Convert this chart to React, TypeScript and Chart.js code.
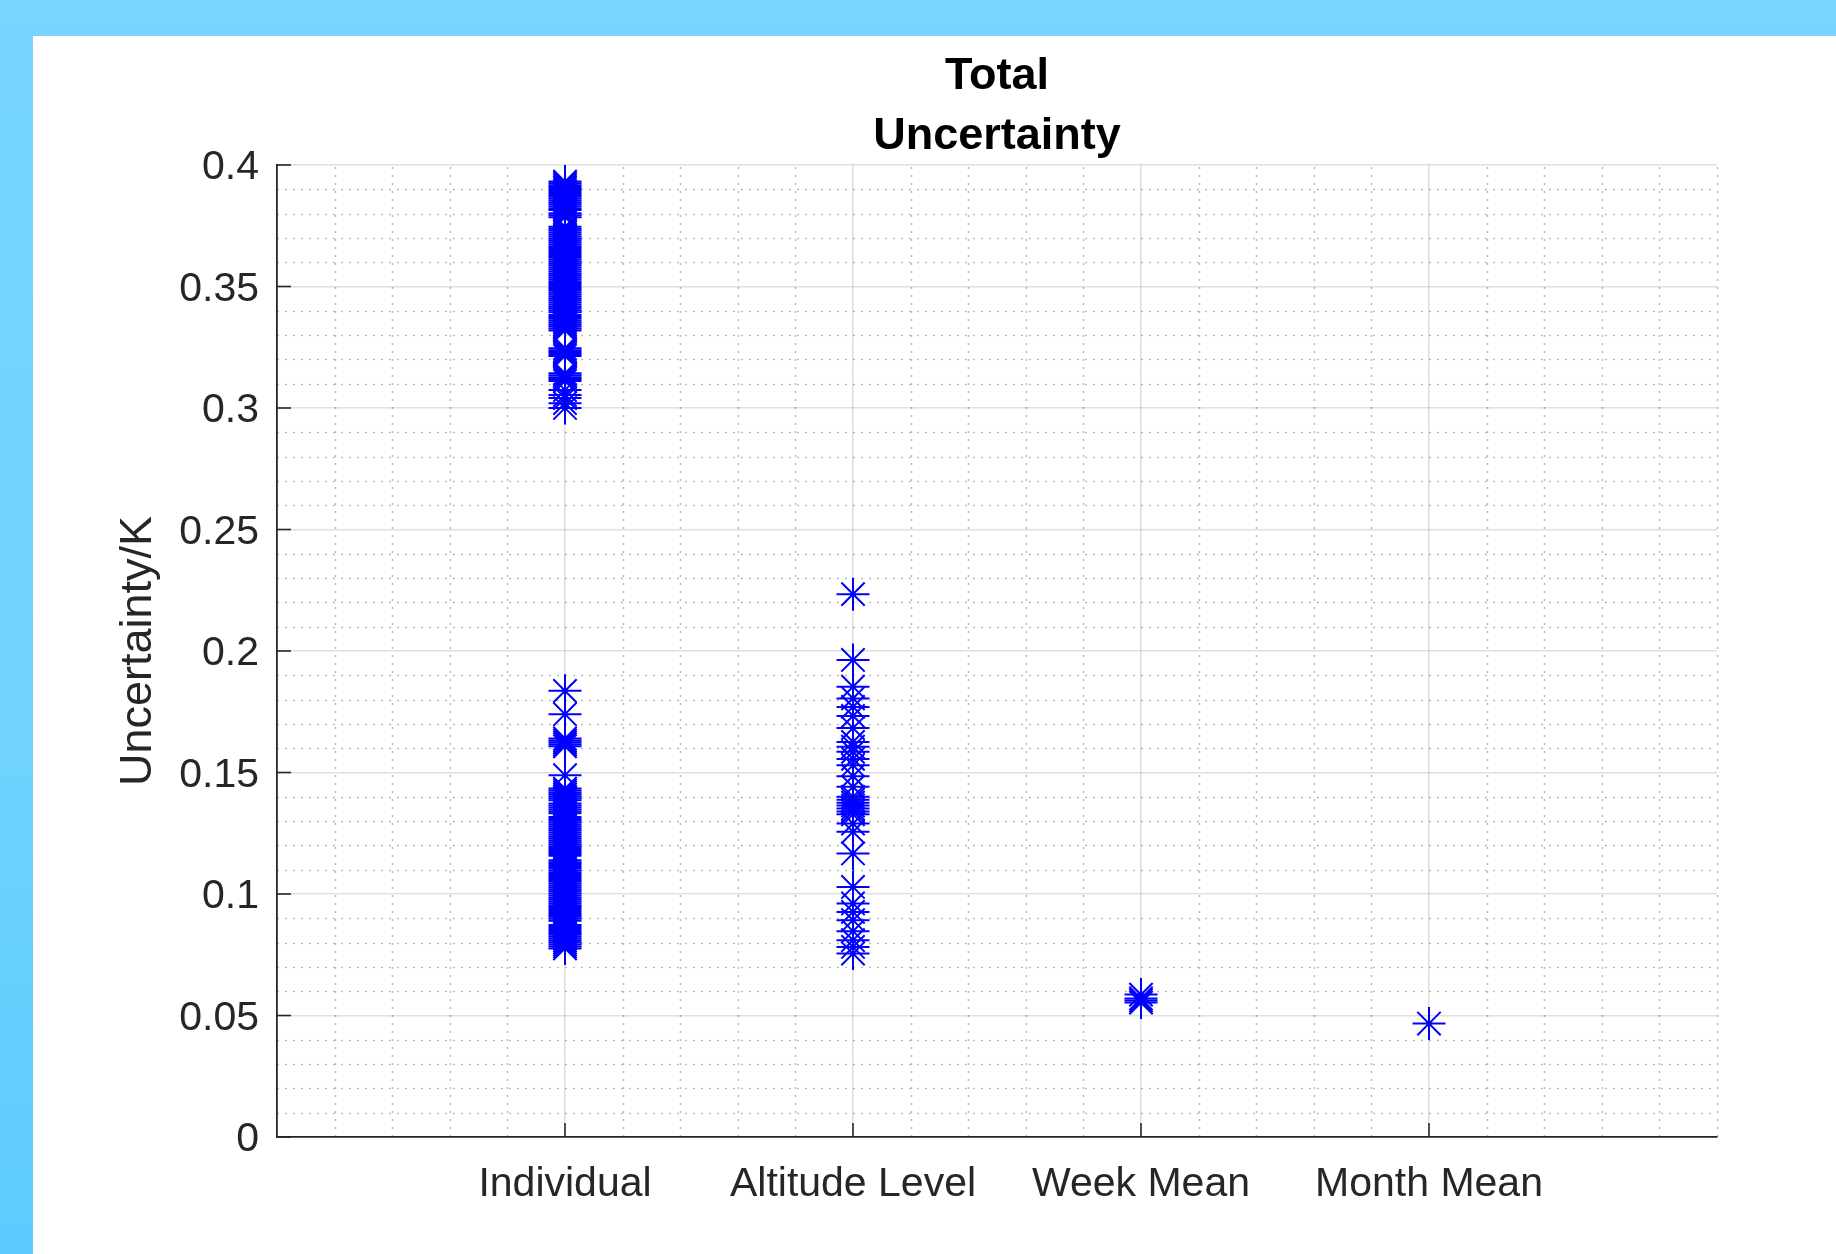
import React, { useEffect, useRef } from 'react';
import { Chart, registerables } from 'chart.js';

Chart.register(...registerables);

// ---------------- data ----------------
const categories = ['Individual', 'Altitude Level', 'Week Mean', 'Month Mean'];

const individualValues = [
  // upper group
  0.3932, 0.3925, 0.3917, 0.3909, 0.3901, 0.3893, 0.3885, 0.3877, 0.3869, 0.3861,
  0.3853, 0.3845, 0.3837, 0.3829, 0.3821, 0.3815,
  0.3801, 0.3793, 0.3785,
  0.3746, 0.3738, 0.373, 0.3722, 0.3714, 0.3706, 0.3698, 0.369, 0.3682, 0.3674,
  0.3666, 0.3658, 0.365, 0.3642, 0.3634, 0.3626, 0.3618, 0.361, 0.3602, 0.3594,
  0.3586, 0.3578, 0.357, 0.3562, 0.3554, 0.3546, 0.3538, 0.353, 0.3522, 0.3514,
  0.3506, 0.3498, 0.349, 0.3482, 0.3474, 0.3466, 0.3458, 0.345, 0.3442, 0.3434,
  0.3426, 0.3418, 0.341, 0.3402, 0.3394,
  0.3383, 0.3375, 0.3367, 0.3359, 0.3351, 0.3343, 0.3335, 0.3327, 0.3319,
  0.3246, 0.3238, 0.323, 0.3222, 0.3214,
  0.3143, 0.3135, 0.3127, 0.3119, 0.3111,
  0.3074, 0.3053, 0.3041, 0.302, 0.3,
  // lower group
  0.1836, 0.174, 0.164, 0.1632, 0.1624, 0.1616, 0.1608, 0.1489,
  0.1434, 0.1426, 0.1418, 0.141, 0.1402, 0.1394, 0.1386,
  0.1372, 0.1364, 0.1356, 0.1348, 0.134, 0.1332,
  0.1317, 0.1309, 0.1301, 0.1293, 0.1285, 0.1277, 0.1269, 0.1261, 0.1253, 0.1245,
  0.1237, 0.1229, 0.1221, 0.1213, 0.1205, 0.1197, 0.1189, 0.1181, 0.1173, 0.1165, 0.1157,
  0.1139, 0.1131, 0.1123, 0.1115, 0.1107,
  0.1098, 0.109, 0.1082, 0.1074, 0.1066, 0.1058, 0.105, 0.1042, 0.1034, 0.1026,
  0.1018, 0.101, 0.1002, 0.0994, 0.0986, 0.0978, 0.097, 0.0962, 0.0954, 0.0946,
  0.0938, 0.093, 0.0922, 0.0914, 0.0906, 0.0898, 0.089,
  0.0872, 0.0864, 0.0856, 0.0848, 0.084, 0.0832, 0.0824, 0.0816, 0.0808, 0.08,
  0.0792, 0.0784, 0.0776,
];

const altitudeValues = [
  0.2234, 0.1963, 0.1853, 0.1805, 0.177, 0.1733, 0.1683, 0.1626, 0.1606, 0.1585,
  0.1556, 0.153, 0.1485, 0.1441, 0.14, 0.1388, 0.1376, 0.1364, 0.1352, 0.134,
  0.1328, 0.129, 0.1256, 0.1167, 0.1029, 0.0961, 0.0926, 0.0892, 0.0847, 0.081,
  0.0782, 0.0755,
];

const weekMeanValues = [0.0586, 0.057, 0.0562, 0.0553];

const monthMeanValues = [0.0467];

const yTickValues = [0, 0.05, 0.1, 0.15, 0.2, 0.25, 0.3, 0.35, 0.4];
const yTickLabels = ['0', '0.05', '0.1', '0.15', '0.2', '0.25', '0.3', '0.35', '0.4'];

const seriesValues = [individualValues, altitudeValues, weekMeanValues, monthMeanValues];

// ---------------- style ----------------
const FONT = "'Liberation Sans', Arial, Helvetica, sans-serif";
const AXIS_COLOR = '#262626';
const MARKER_COLOR = 'rgb(0,0,255)';

const matlabGrid = {
  id: 'matlabGrid',
  beforeDatasetsDraw(chart: any) {
    const { ctx, chartArea: a, scales } = chart;
    const x = scales.x;
    const y = scales.y;
    ctx.save();
    // minor dotted grid
    ctx.strokeStyle = 'rgba(38,38,38,0.32)';
    ctx.lineWidth = 1.5;
    ctx.setLineDash([2, 6]);
    for (let i = 1; i <= 25; i++) {
      if (i % 5 === 0 && i !== 25) continue;
      const px = Math.round(x.getPixelForValue(i * 0.2)) + 0.5;
      ctx.beginPath();
      ctx.moveTo(px, a.bottom);
      ctx.lineTo(px, a.top);
      ctx.stroke();
    }
    for (let j = 1; j < 40; j++) {
      if (j % 5 === 0) continue;
      const py = Math.round(y.getPixelForValue(j * 0.01)) + 0.5;
      ctx.beginPath();
      ctx.moveTo(a.left, py);
      ctx.lineTo(a.right, py);
      ctx.stroke();
    }
    ctx.setLineDash([]);
    // inward tick marks
    ctx.strokeStyle = AXIS_COLOR;
    ctx.lineWidth = 1.6;
    for (const t of y.ticks) {
      const py = y.getPixelForValue(t.value);
      ctx.beginPath();
      ctx.moveTo(a.left, py);
      ctx.lineTo(a.left + 14, py);
      ctx.stroke();
    }
    for (const t of x.ticks) {
      const px = x.getPixelForValue(t.value);
      ctx.beginPath();
      ctx.moveTo(px, a.bottom);
      ctx.lineTo(px, a.bottom - 14);
      ctx.stroke();
    }
    ctx.restore();
  },
};

export default function App() {
  const canvasRef = useRef<HTMLCanvasElement | null>(null);

  useEffect(() => {
    const canvas = canvasRef.current;
    if (!canvas) return;
    const datasets = seriesValues.map((vals, i) => ({
      label: categories[i],
      data: vals.map((v) => ({ x: i + 1, y: v })),
      pointStyle: 'star' as const,
      pointRadius: 16.5,
      pointBorderWidth: 2,
      borderColor: MARKER_COLOR,
      pointBorderColor: MARKER_COLOR,
      backgroundColor: 'rgba(0,0,0,0)',
      pointBackgroundColor: 'rgba(0,0,0,0)',
      showLine: false,
    }));

    const chart = new Chart(canvas, {
      type: 'scatter',
      data: { datasets },
      options: {
        animation: false,
        responsive: false,
        devicePixelRatio: 1,
        events: [],
        layout: { padding: { left: 0, right: 119, top: 0, bottom: 0 } },
        plugins: {
          legend: { display: false },
          tooltip: { enabled: false },
          title: {
            display: true,
            fullSize: false,
            text: ['Total', 'Uncertainty'],
            color: '#000000',
            font: { family: FONT, size: 45, weight: 'bold', lineHeight: 60 / 45 },
            padding: { top: 10.5, bottom: -1.5 },
          },
        },
        scales: {
          x: {
            type: 'linear',
            min: 0,
            max: 5,
            afterBuildTicks: (scale: any) => {
              scale.ticks = categories.map((_, i) => ({ value: i + 1 }));
            },
            afterFit: (scale: any) => {
              scale.height = 117;
            },
            ticks: {
              autoSkip: false,
              maxRotation: 0,
              padding: 23.5,
              color: AXIS_COLOR,
              font: { family: FONT, size: 41 },
              callback: (value: any) => categories[Math.round(Number(value)) - 1] ?? '',
            },
            grid: {
              color: 'rgba(38,38,38,0.15)',
              lineWidth: 1.5,
              drawTicks: false,
              tickLength: 0,
            },
            border: { display: true, color: AXIS_COLOR, width: 1.8 },
          },
          y: {
            type: 'linear',
            min: 0,
            max: 0.4,
            afterBuildTicks: (scale: any) => {
              scale.ticks = yTickValues.map((v) => ({ value: v }));
            },
            afterFit: (scale: any) => {
              scale.width = 244;
            },
            ticks: {
              autoSkip: false,
              padding: 18,
              labelOffset: 3,
              color: AXIS_COLOR,
              font: { family: FONT, size: 41 },
              callback: (_value: any, index: number) => yTickLabels[index],
            },
            grid: {
              color: 'rgba(38,38,38,0.15)',
              lineWidth: 1.5,
              drawTicks: false,
              tickLength: 0,
            },
            border: { display: true, color: AXIS_COLOR, width: 1.8 },
            title: {
              display: true,
              text: 'Uncertainty/K',
              color: AXIS_COLOR,
              font: { family: FONT, size: 45 },
              padding: { top: 79, bottom: 0 },
            },
          },
        },
      },
      plugins: [matlabGrid],
    });

    return () => {
      chart.destroy();
    };
  }, []);

  return (
    <div
      style={{
        position: 'fixed',
        left: 0,
        top: 0,
        width: 1836,
        height: 1254,
        background: 'linear-gradient(to bottom, #77d5ff 0%, #6fd2ff 60%, #5ccbfd 100%)',
        overflow: 'hidden',
      }}
    >
      <div
        style={{
          position: 'absolute',
          left: 33,
          top: 36,
          width: 1803,
          height: 1218,
          background: '#ffffff',
        }}
      >
        <canvas
          ref={canvasRef}
          width={1803}
          height={1218}
          style={{ width: 1803, height: 1218, display: 'block' }}
        />
      </div>
    </div>
  );
}
